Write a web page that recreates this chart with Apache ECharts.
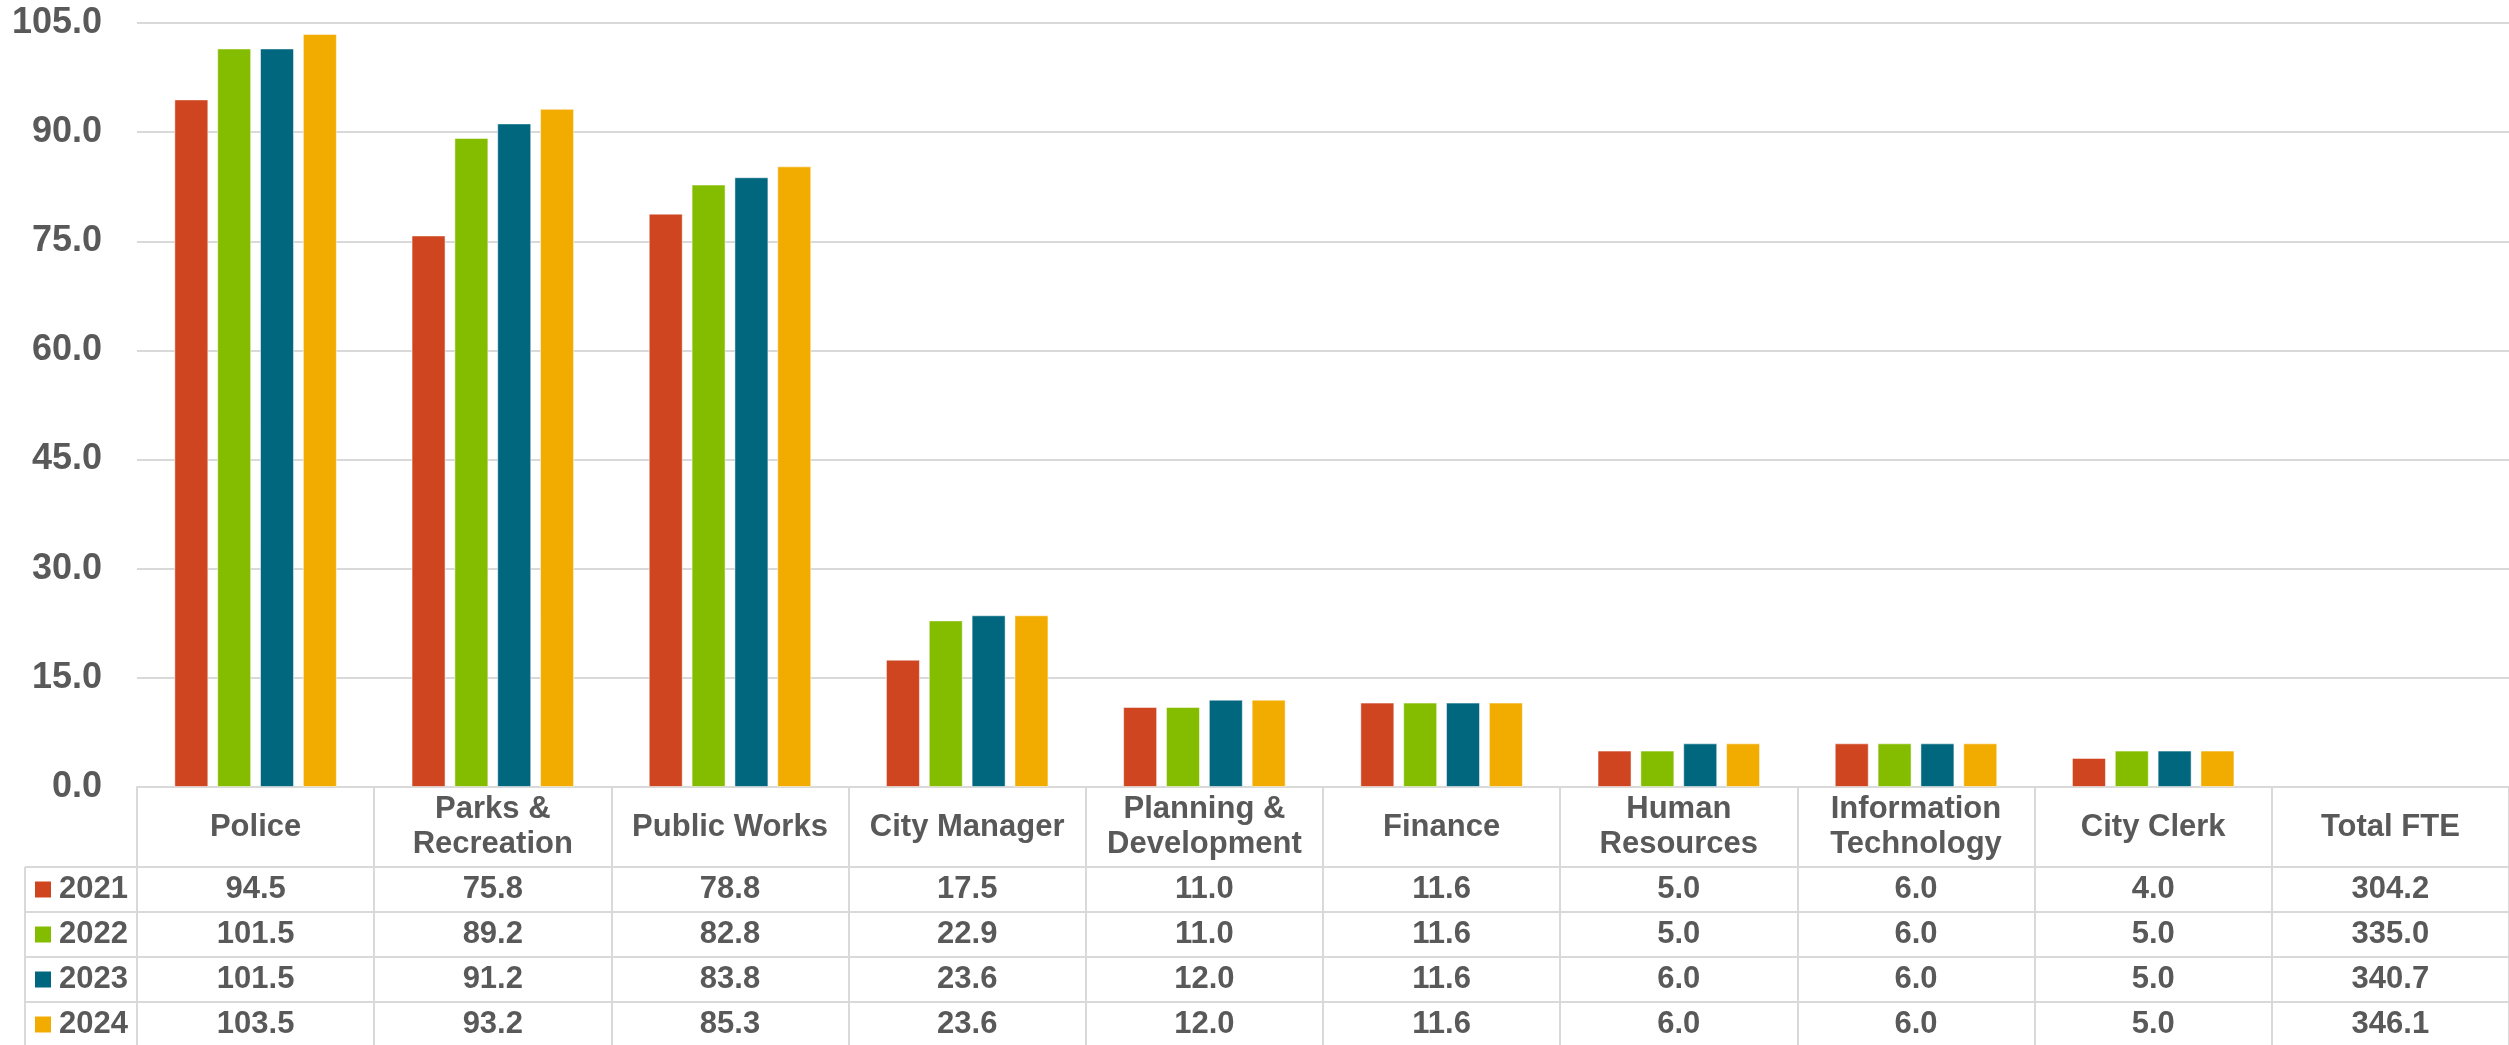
<!DOCTYPE html>
<html>
<head>
<meta charset="utf-8">
<script src="https://cdn.jsdelivr.net/npm/echarts@6/dist/echarts.min.js"></script>
<style>
  html, body { margin: 0; padding: 0; background: #fff; }
  #chart { width: 2509px; height: 1045px; }
</style>
</head>
<body>
<div id="chart"></div>
<script>
// departments (category axis + table header)
const categories = [
  'Police', 'Parks &\nRecreation', 'Public Works', 'City Manager',
  'Planning &\nDevelopment', 'Finance', 'Human\nResources',
  'Information\nTechnology', 'City Clerk', 'Total FTE'
];
const years = ['2021', '2022', '2023', '2024'];

// FTE per department (no bar for Total FTE)
const fte2021 = [94.5, 75.8, 78.8, 17.5, 11.0, 11.6, 5.0, 6.0, 4.0];
const fte2022 = [101.5, 89.2, 82.8, 22.9, 11.0, 11.6, 5.0, 6.0, 5.0];
const fte2023 = [101.5, 91.2, 83.8, 23.6, 12.0, 11.6, 6.0, 6.0, 5.0];
const fte2024 = [103.5, 93.2, 85.3, 23.6, 12.0, 11.6, 6.0, 6.0, 5.0];
const totalFte = [304.2, 335.0, 340.7, 346.1];

const yTicks = { min: 0, max: 105, interval: 15 };

const seriesData = [fte2021, fte2022, fte2023, fte2024];
const colors = ['#CF4520', '#84BD00', '#00677F', '#F2AC00'];

const textColor = '#595959';
const lineColor = '#D9D9D9';
const font = '"Liberation Sans", Arial, sans-serif';

// layout
const W = 2509, H = 1045;
const gridLeft = 137, gridTop = 23, tableTop = 787;
const headerH = 80, rowH = 45;
const legendLeft = 25;

const chart = echarts.init(document.getElementById('chart'));

const rowAxes = years.map((y, i) => ({
  type: 'category',
  data: categories,
  position: 'bottom',
  offset: headerH + i * rowH,
  axisLine: { show: true, lineStyle: { color: lineColor, width: 2 } },
  axisTick: { show: true, interval: 0, length: rowH, lineStyle: { color: lineColor, width: 2 } },
  axisLabel: {
    interval: 0,
    color: textColor,
    fontSize: 31,
    fontWeight: 'bold',
    fontFamily: font,
    verticalAlign: 'middle',
    margin: rowH / 2,
    formatter: (v, idx) => {
      const val = idx < seriesData[i].length ? seriesData[i][idx] : totalFte[i];
      return val.toFixed(1);
    }
  }
}));

// borders of the legend column left of the table
const legendLines = [];
for (let i = 0; i <= years.length; i++) {
  const y = tableTop + headerH + i * rowH;
  legendLines.push({
    type: 'line',
    shape: { x1: legendLeft, y1: y, x2: gridLeft, y2: y },
    style: { stroke: lineColor, lineWidth: 2 }
  });
}
legendLines.push({
  type: 'line',
  shape: { x1: legendLeft, y1: tableTop + headerH, x2: legendLeft, y2: H },
  style: { stroke: lineColor, lineWidth: 2 }
});

const legendLine = 32;

const option = {
  backgroundColor: '#fff',
  animation: false,
  color: colors,
  grid: { left: gridLeft, right: 0, top: gridTop, bottom: H - tableTop, containLabel: false },
  legend: {
    orient: 'vertical',
    left: 35,
    top: tableTop + headerH + (rowH - legendLine) / 2,
    padding: 0,
    itemGap: rowH - legendLine,
    itemWidth: 16,
    itemHeight: 16,
    icon: 'rect',
    itemStyle: { borderWidth: 0 },
    textStyle: {
      color: textColor,
      fontSize: 31,
      fontWeight: 'bold',
      fontFamily: font,
      lineHeight: legendLine,
      padding: [0, 0, 0, 3]
    },
    data: years
  },
  xAxis: [
    {
      type: 'category',
      data: categories,
      position: 'bottom',
      offset: 0,
      axisLine: { show: true, lineStyle: { color: lineColor, width: 2 } },
      axisTick: { show: true, interval: 0, length: headerH, lineStyle: { color: lineColor, width: 2 } },
      axisLabel: {
        interval: 0,
        color: textColor,
        fontSize: 31,
        fontWeight: 'bold',
        fontFamily: font,
        lineHeight: 35,
        align: 'center',
        verticalAlign: 'middle',
        margin: headerH / 2
      }
    },
    ...rowAxes
  ],
  yAxis: {
    type: 'value',
    min: yTicks.min,
    max: yTicks.max,
    interval: yTicks.interval,
    axisLine: { show: false },
    axisTick: { show: false },
    axisLabel: {
      color: textColor,
      fontSize: 36,
      fontWeight: 'bold',
      fontFamily: font,
      margin: 35,
      formatter: v => v.toFixed(1)
    },
    splitLine: { lineStyle: { color: lineColor, width: 2 } }
  },
  graphic: legendLines,
  series: years.map((y, i) => ({
    name: y,
    type: 'bar',
    xAxisIndex: 0,
    data: seriesData[i],
    barWidth: 34,
    barGap: '26%',
    itemStyle: { color: colors[i], borderColor: 'rgba(255,255,255,0.5)', borderWidth: 1 }
  }))
};

chart.setOption(option);
</script>
</body>
</html>
